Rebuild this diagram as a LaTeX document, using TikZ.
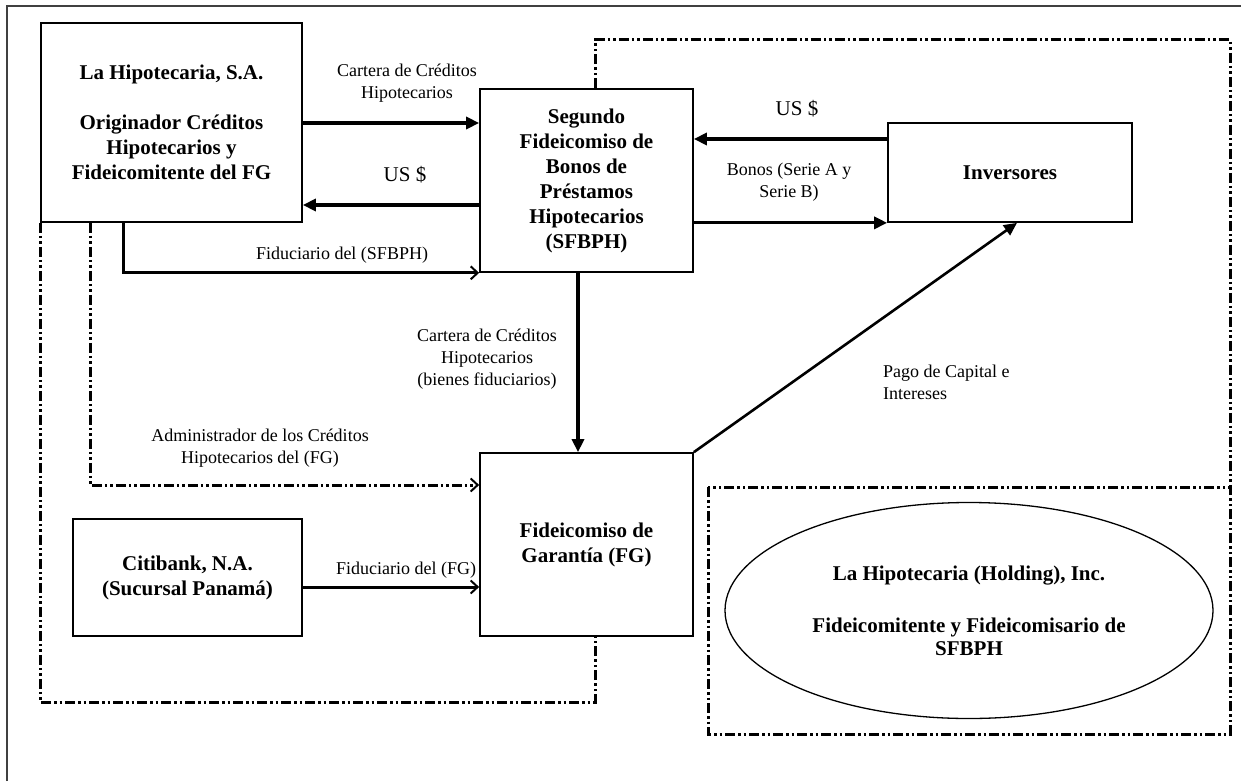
\documentclass[tikz,border=0pt]{standalone}
\usepackage{fontspec}
\setmainfont{Liberation Serif}
\usepackage{tikz}
\usetikzlibrary{arrows.meta,shapes.geometric,calc}

\tikzset{
  caja/.style={draw, line width=1.7pt, align=center, inner sep=0pt,
    font=\fontsize{21}{25}\selectfont\bfseries},
  etiq/.style={align=center, inner sep=0pt, font=\fontsize{18}{22}\selectfont},
  dolar/.style={inner sep=0pt, font=\fontsize{21}{24}\selectfont},
  flecha/.style={line width=3.2pt, -{Triangle[length=13pt,width=12pt]}},
  flechafina/.style={line width=3pt, -{Straight Barb[length=7pt,width=13pt,line width=2pt]}},
  rayapunto/.style={line width=3pt, dash pattern=on 10pt off 3pt on 2.5pt off 3pt on 2.5pt off 3pt},
}

\begin{document}
\begin{tikzpicture}[x=1pt, y=-1pt]
\fill[white] (0,0) rectangle (1241,781);
\useasboundingbox (0,0) rectangle (1241,781);
% marco
\draw[line width=1.4pt, black!75] (7,781) -- (7,6) -- (1241,6);

% cajas
\node[caja, minimum width=261pt, minimum height=199pt] (hip) at (171.5,122.5)
  {La Hipotecaria, S.A.\\[25pt]Originador Créditos\\Hipotecarios y\\Fideicomitente del FG};
\node[caja, minimum width=213pt, minimum height=183pt] (sfbph) at (586.5,180.5)
  {Segundo\\Fideicomiso de\\Bonos de\\Préstamos\\Hipotecarios\\(SFBPH)};
\node[caja, minimum width=244pt, minimum height=99pt] (inv) at (1010,172.5) {Inversores};
\node[caja, minimum width=213pt, minimum height=183pt] (fg) at (586.5,544.5)
  {Fideicomiso de\\Garantía (FG)};
\node[caja, minimum width=229pt, minimum height=117pt] (citi) at (187.5,577.5)
  {Citibank, N.A.\\(Sucursal Panamá)};
\node[caja, ellipse, line width=1.3pt, minimum width=488pt, minimum height=216pt,
  font=\fontsize{21}{23}\selectfont\bfseries] (hold) at (969,610.5)
  {La Hipotecaria (Holding), Inc.\\[29pt]Fideicomitente y Fideicomisario de\\SFBPH};

% etiquetas
\node[etiq] (lcart) at (407,83.5) {Cartera de Créditos\\Hipotecarios};
\node[dolar] (lus1) at (405,175) {US \$};
\node[etiq] (lfid) at (342,255) {Fiduciario del (SFBPH)};
\node[dolar] (lus2) at (797,109) {US \$};
\node[etiq] (lbon) at (789,182.5) {Bonos (Serie A y\\Serie B)};
\node[etiq] (lcart2) at (487,359) {Cartera de Créditos\\Hipotecarios\\(bienes fiduciarios)};
\node[etiq] (ladm) at (260,448) {Administrador de los Créditos\\Hipotecarios del (FG)};
\node[etiq] (lfidfg) at (406,570) {Fiduciario del (FG)};
\node[etiq, anchor=west, align=left] (lpago) at (883,382) {Pago de Capital e\\Intereses};

% flujos
\draw[flecha] (hip.east |- 0,123) -- (sfbph.west |- 0,123);
\draw[flecha] (sfbph.west |- 0,205) -- (hip.east |- 0,205);
\draw[flechafina] (hip.south -| 123,0) |- (sfbph.south west);
\draw[flecha] (inv.west |- 0,139) -- (sfbph.east |- 0,139);
\draw[flecha] (sfbph.east |- inv.south west) -- (inv.south west);
\draw[flecha] (sfbph.south -| 578,0) -- (fg.north -| 578,0);
\draw[flecha, line width=2.6pt] (fg.north east) -- (inv.south -| 1017,0);
\draw[flechafina] (citi.east |- 0,587) -- (fg.west |- 0,587);
\draw[rayapunto, -{Straight Barb[length=7pt,width=13pt,line width=2pt]}]
  (hip.south -| 90,0) |- (fg.west |- 0,485);

% grupos
\draw[rayapunto] (hip.south west) -- (hip.south west |- 0,702) -| (fg.south -| 595,0);
\draw[rayapunto] (sfbph.north -| 595,0) |- (1230,40) -- (1230,487);
\draw[rayapunto] (708,487) rectangle (1230,734);
\end{tikzpicture}
\end{document}
